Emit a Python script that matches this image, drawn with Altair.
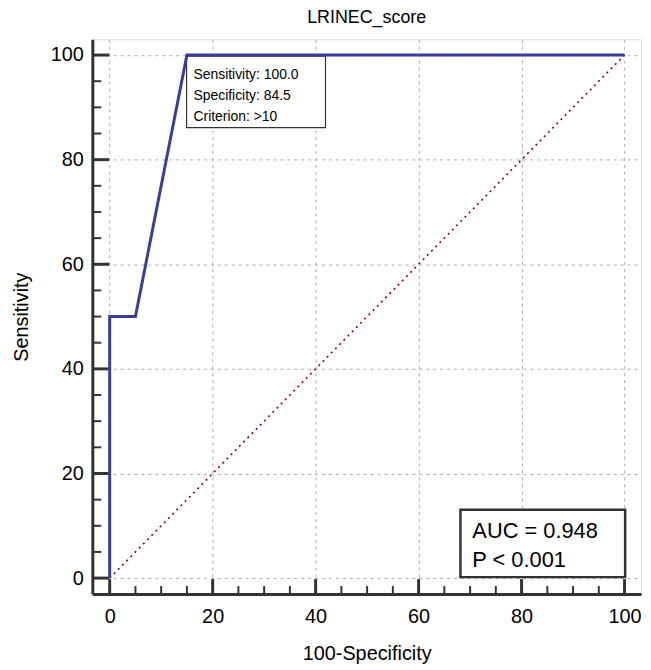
import altair as alt
import pandas as pd

# ROC curve points (100-Specificity, Sensitivity)
fpr = [0, 0, 5, 15, 100]
tpr = [0, 50, 50, 100, 100]
# reference diagonal
diag_x = [0, 100]
diag_y = [0, 100]
major_ticks = [0, 20, 40, 60, 80, 100]
minor_ticks = [5, 10, 15, 25, 30, 35, 45, 50, 55, 65, 70, 75, 85, 90, 95]
crit_lines = ["Sensitivity: 100.0", "Specificity: 84.5", "Criterion: >10"]
auc_lines = ["AUC = 0.948", "P < 0.001"]
title_text = "LRINEC_score"
x_title = "100-Specificity"
y_title = "Sensitivity"

W, H = 553, 559
FONT = "Liberation Sans"

xs = alt.Scale(domain=[-3.37, 103.2], nice=False, zero=False)
ys = alt.Scale(domain=[-3.04, 103.0], nice=False, zero=False)

x_axis = alt.Axis(values=major_ticks, tickSize=0, domainWidth=3, domainColor="#333333",
                  labelPadding=13, labelFontSize=20, labelFont=FONT, labelColor="#000",
                  grid=True, gridDash=[3, 4], gridColor="#aaaaaa", gridWidth=1,
                  title=x_title, titleFontSize=20, titleFont=FONT, titleFontWeight="normal",
                  titlePadding=17, titleColor="#000")
y_axis = alt.Axis(values=major_ticks, tickSize=0, domainWidth=3, domainColor="#333333",
                  labelPadding=9, labelFontSize=20, labelFont=FONT, labelColor="#000",
                  grid=True, gridDash=[3, 4], gridColor="#aaaaaa", gridWidth=1,
                  title=y_title, titleFontSize=20, titleFont=FONT, titleFontWeight="normal",
                  titlePadding=19, titleColor="#000")

roc_df = pd.DataFrame({"x": fpr, "y": tpr, "o": range(len(fpr))})
diag_df = pd.DataFrame({"x": diag_x, "y": diag_y})
major_df = pd.DataFrame({"v": major_ticks})
minor_df = pd.DataFrame({"v": minor_ticks})

base_axes = alt.Chart(diag_df).mark_line(opacity=0).encode(
    x=alt.X("x:Q", scale=xs, axis=x_axis),
    y=alt.Y("y:Q", scale=ys, axis=y_axis),
)

tick_color = "#333333"
y_major = alt.Chart(major_df).mark_rule(color=tick_color, strokeWidth=3).encode(
    y=alt.Y("v:Q", scale=ys), x=alt.value(0), x2=alt.value(17))
y_minor = alt.Chart(minor_df).mark_rule(color=tick_color, strokeWidth=2).encode(
    y=alt.Y("v:Q", scale=ys), x=alt.value(0), x2=alt.value(9))
x_major = alt.Chart(major_df).mark_rule(color=tick_color, strokeWidth=3).encode(
    x=alt.X("v:Q", scale=xs), y=alt.value(H), y2=alt.value(H - 15))
x_minor = alt.Chart(minor_df).mark_rule(color=tick_color, strokeWidth=2).encode(
    x=alt.X("v:Q", scale=xs), y=alt.value(H), y2=alt.value(H - 8))

diag = alt.Chart(diag_df).mark_line(color="#8b0000", strokeWidth=1.6, strokeDash=[2, 4]).encode(
    x=alt.X("x:Q", scale=xs), y=alt.Y("y:Q", scale=ys))

box1 = alt.Chart(pd.DataFrame({"a": [0]})).mark_rect(
    fill="white", stroke="#333333", strokeWidth=1.2).encode(
    x=alt.value(95), x2=alt.value(235), y=alt.value(17), y2=alt.value(89))

roc = alt.Chart(roc_df).mark_line(color="#3a3ca0", strokeWidth=3).encode(
    x=alt.X("x:Q", scale=xs), y=alt.Y("y:Q", scale=ys), order="o:Q")

crit_df = pd.DataFrame({"t": crit_lines, "py": [36, 57, 78]})
crit_text = alt.Chart(crit_df).mark_text(
    align="left", baseline="middle", fontSize=14, font=FONT, color="#000").encode(
    x=alt.value(102), y=alt.Y("py:Q", scale=None), text="t:N")

box2 = alt.Chart(pd.DataFrame({"a": [0]})).mark_rect(
    fill="white", stroke="#333333", strokeWidth=2.5).encode(
    x=alt.value(371), x2=alt.value(537), y=alt.value(474), y2=alt.value(542))

auc_df = pd.DataFrame({"t": auc_lines, "py": [496, 525]})
auc_text = alt.Chart(auc_df).mark_text(
    align="left", baseline="middle", fontSize=22, font=FONT, color="#000").encode(
    x=alt.value(383), y=alt.Y("py:Q", scale=None), text="t:N")

chart = alt.layer(
    base_axes, y_major, y_minor, x_major, x_minor, diag, box1, roc, crit_text, box2, auc_text
).properties(
    width=W, height=H,
    title=alt.TitleParams(title_text, fontSize=18, font=FONT, fontWeight="normal",
                          color="#000", offset=12),
    autosize=alt.AutoSizeParams(type="none"),
    padding={"left": 85, "top": 29, "right": 2, "bottom": 74},
).configure_view(stroke=None).configure(background="white")

chart.save("out.html", embed_options={"renderer": "svg", "actions": False})
